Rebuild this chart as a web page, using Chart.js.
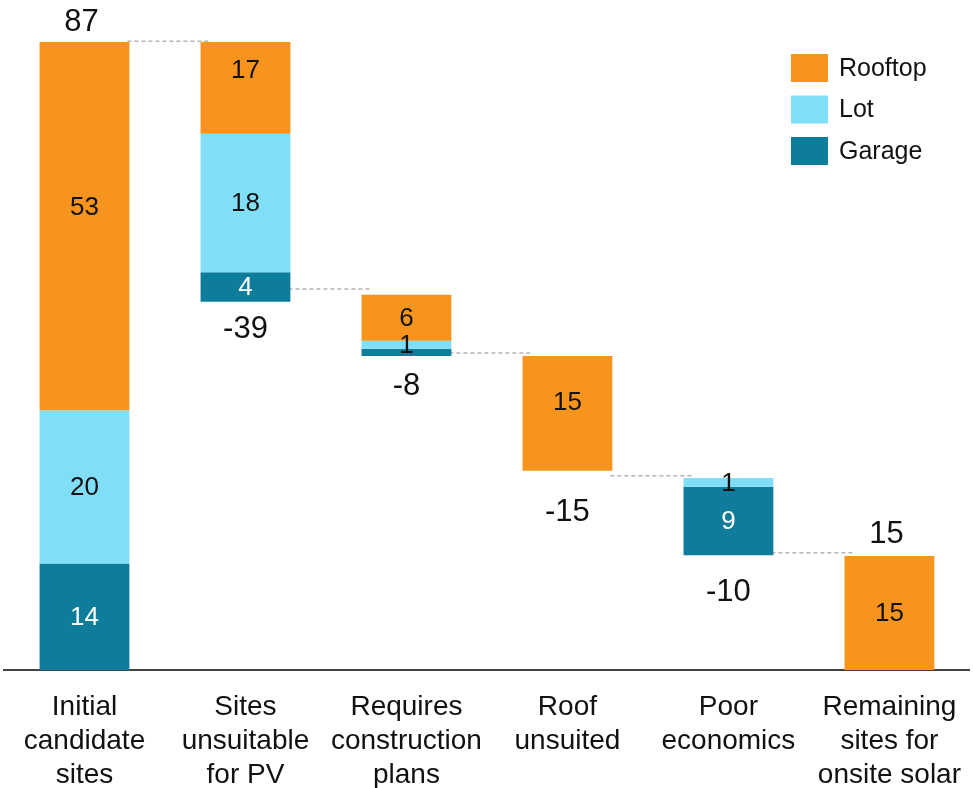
<!DOCTYPE html>
<html lang="en">
  <head>
    <meta charset="UTF-8" />
    <title>Site screening waterfall</title>
    <style>
      body {
        margin: 0;
        padding: 0;
        background: #ffffff;
      }
      canvas {
        display: block;
      }
    </style>
  </head>
  <body>
    <canvas id="waterfall" width="973" height="788"></canvas>

    <script src="https://cdn.jsdelivr.net/npm/chart.js"></script>
    <script>
      const categories = [
        ["Initial", "candidate", "sites"],
        ["Sites", "unsuitable", "for PV"],
        ["Requires", "construction", "plans"],
        ["Roof", "unsuited"],
        ["Poor", "economics"],
        ["Remaining", "sites for", "onsite solar"],
      ];

      // floating segments [from, to], as drawn in the picture
      const rooftop = [[36, 87], [74.3, 87], [45.6, 52], [27.6, 43.5], null, [0, 15.8]];
      const lot = [[14.75, 36], [55.1, 74.3], [44.5, 45.6], null, [25.4, 26.6], null];
      const garage = [[0, 14.75], [51, 55.1], [43.5, 44.5], null, [15.9, 25.4], null];

      // printed numbers
      const rooftopLabels = ["53", "17", "6", "15", "", "15"];
      const lotLabels = ["20", "18", "1", "", "1", ""];
      const garageLabels = ["14", "4", "", "", "9", ""];
      const changeLabels = ["87", "-39", "-8", "-15", "-10", "15"];

      // levels of the dashed connectors between bars
      const connectorLevels = [87.1, 52.8, 43.9, 26.9, 16.25];

      const colors = {
        rooftop: "#f7941e",
        lot: "#80dff6",
        garage: "#0e7c9b",
      };
      const fontFamily = "'Liberation Sans', Arial, sans-serif";
      // hand placed offsets of some numbers in the original
      const rooftopNudge = [-19, -18, 0, -12, 0, 0];
      const changeNudge = [2, -2, 0, 12, 7, 0];

      const connectors = {
        id: "connectors",
        beforeDatasetsDraw(chart) {
          const ctx = chart.ctx;
          const x = chart.scales.x;
          const y = chart.scales.y;
          const half = chart.getDatasetMeta(0).data[0].width / 2;
          ctx.save();
          ctx.strokeStyle = "#b4b4b4";
          ctx.lineWidth = 1.5;
          ctx.setLineDash([4, 3]);
          connectorLevels.forEach((level, i) => {
            const py = y.getPixelForValue(level);
            ctx.beginPath();
            ctx.moveTo(x.getPixelForValue(i) + half - 2, py);
            ctx.lineTo(x.getPixelForValue(i + 1) - half + 11, py);
            ctx.stroke();
          });
          ctx.restore();
        },
      };

      const barLabels = {
        id: "barLabels",
        afterDatasetsDraw(chart) {
          const ctx = chart.ctx;
          const allLabels = [rooftopLabels, lotLabels, garageLabels];
          const textColors = ["#111111", "#111111", "#ffffff"];
          ctx.save();
          ctx.textAlign = "center";
          ctx.textBaseline = "middle";
          ctx.font = "26px " + fontFamily;
          chart.data.datasets.forEach((ds, d) => {
            const meta = chart.getDatasetMeta(d);
            meta.data.forEach((el, i) => {
              if (!ds.data[i] || !allLabels[d][i]) return;
              const nudge = d === 0 ? rooftopNudge[i] : 0;
              ctx.fillStyle = textColors[d];
              ctx.fillText(allLabels[d][i], el.x, (el.y + el.base) / 2 + 1 + nudge);
            });
          });

          // change / total numbers above or below each column
          ctx.font = "31px " + fontFamily;
          ctx.fillStyle = "#111111";
          const last = categories.length - 1;
          categories.forEach((c, i) => {
            let top = Infinity;
            let bottom = -Infinity;
            let cx = 0;
            chart.data.datasets.forEach((ds, d) => {
              if (!ds.data[i]) return;
              const el = chart.getDatasetMeta(d).data[i];
              top = Math.min(top, el.y, el.base);
              bottom = Math.max(bottom, el.y, el.base);
              cx = el.x;
            });
            if (i === 0 || i === last) {
              ctx.fillText(changeLabels[i], cx - 3, top - 22 + changeNudge[i]);
            } else {
              ctx.fillText(changeLabels[i], cx, bottom + 30 + changeNudge[i]);
            }
          });
          ctx.restore();
        },
      };

      const sideLegend = {
        id: "sideLegend",
        afterDraw(chart) {
          const ctx = chart.ctx;
          const items = [
            ["Rooftop", colors.rooftop],
            ["Lot", colors.lot],
            ["Garage", colors.garage],
          ];
          ctx.save();
          ctx.font = "25px " + fontFamily;
          ctx.textBaseline = "middle";
          ctx.textAlign = "left";
          items.forEach((item, i) => {
            const top = 54 + i * 41.5;
            ctx.fillStyle = item[1];
            ctx.fillRect(791, top, 37, 28);
            ctx.fillStyle = "#111111";
            ctx.fillText(item[0], 839, top + 15);
          });
          ctx.restore();
        },
      };

      new Chart(document.getElementById("waterfall"), {
        type: "bar",
        data: {
          labels: categories,
          datasets: [
            { label: "Rooftop", data: rooftop, backgroundColor: colors.rooftop },
            { label: "Lot", data: lot, backgroundColor: colors.lot },
            { label: "Garage", data: garage, backgroundColor: colors.garage },
          ],
        },
        options: {
          responsive: false,
          animation: false,
          layout: {
            padding: { top: 42, left: 4, right: 0, bottom: -16 },
          },
          datasets: {
            bar: {
              categoryPercentage: 1,
              barPercentage: 0.558,
              borderWidth: 0,
              grouped: false,
            },
          },
          plugins: {
            legend: { display: false },
            tooltip: { enabled: false },
          },
          scales: {
            x: {
              stacked: true,
              grid: { display: false },
              border: { display: true, color: "#444444", width: 2 },
              ticks: {
                color: "#111111",
                padding: 12,
                maxRotation: 0,
                autoSkip: false,
                font: { family: fontFamily, size: 28, lineHeight: 1.214 },
              },
            },
            y: {
              display: false,
              min: 0,
              max: 87,
            },
          },
        },
        plugins: [connectors, barLabels, sideLegend],
      });
    </script>
  </body>
</html>
